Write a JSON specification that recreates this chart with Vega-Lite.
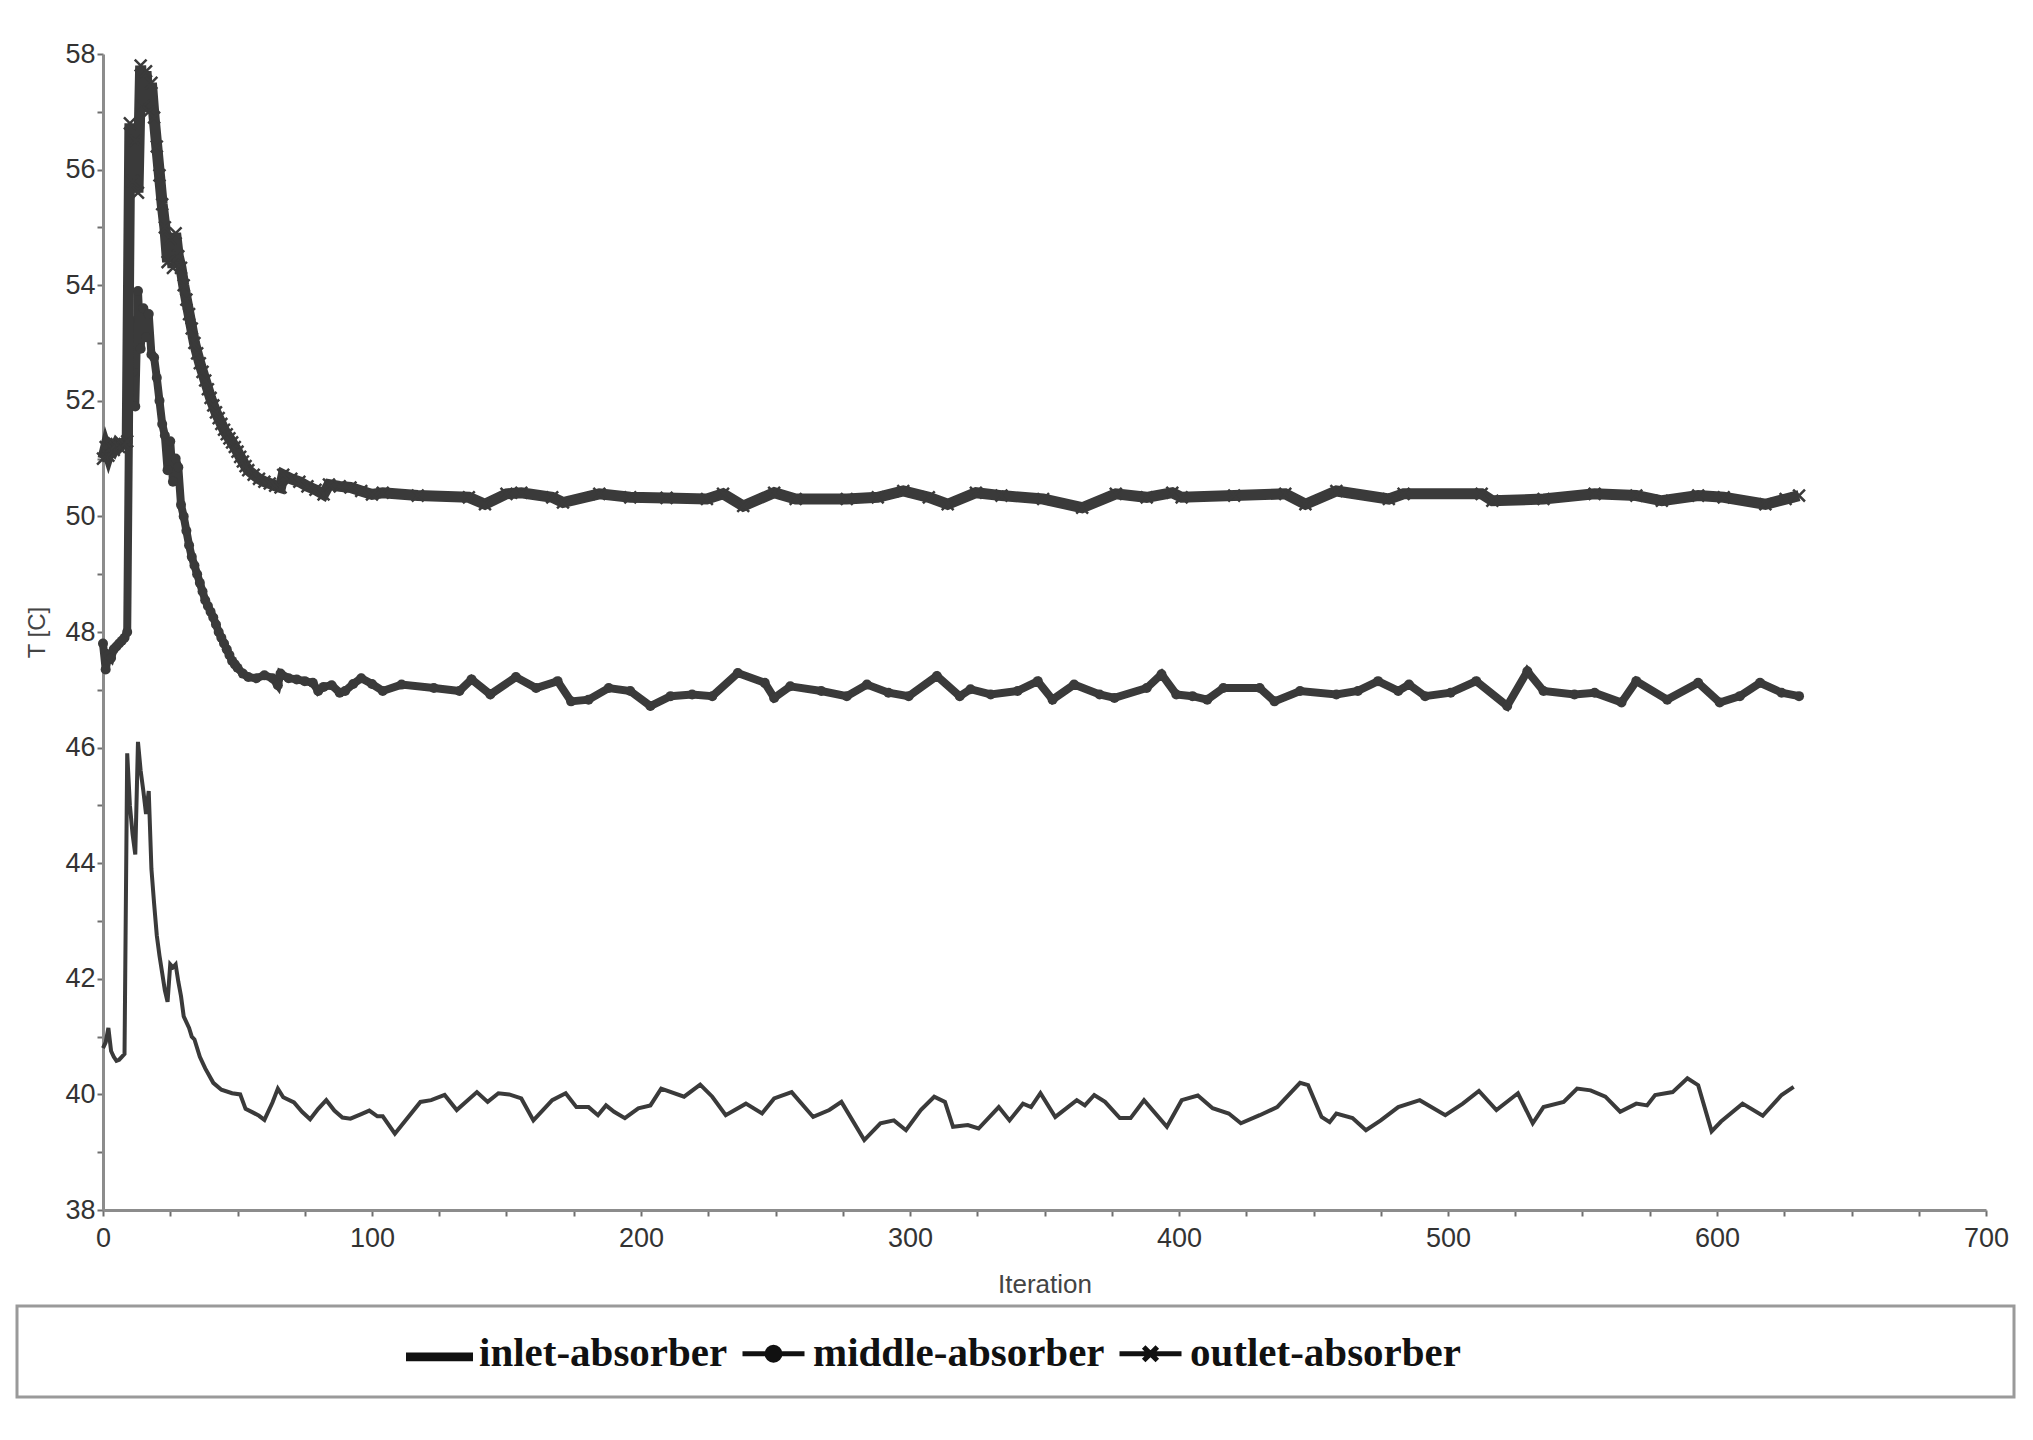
{
  "$schema": "https://vega.github.io/schema/vega-lite/v6.json",
  "background": "white",
  "padding": {"left": 15, "top": 40, "right": 10, "bottom": 10},
  "spacing": 7,
  "datasets": {
    "inlet": [
      {"iteration":0,"T":40.8},{"iteration":1,"T":40.9},{"iteration":2,"T":41.15},{"iteration":3,"T":40.75},{"iteration":4,"T":40.65},{"iteration":5,"T":40.58},{"iteration":6,"T":40.6},{"iteration":7,"T":40.65},{"iteration":8,"T":40.7},{"iteration":9,"T":45.9},{"iteration":10,"T":45.0},{"iteration":11,"T":44.5},{"iteration":12,"T":44.15},{"iteration":13,"T":46.1},{"iteration":14,"T":45.6},{"iteration":15,"T":45.25},{"iteration":16,"T":44.85},{"iteration":17,"T":45.25},{"iteration":18,"T":43.9},{"iteration":19,"T":43.3},{"iteration":20,"T":42.75},{"iteration":21,"T":42.4},{"iteration":22,"T":42.1},{"iteration":23,"T":41.8},{"iteration":24,"T":41.6},{"iteration":25,"T":42.25},{"iteration":26,"T":42.2},{"iteration":27,"T":42.25},{"iteration":28,"T":41.95},{"iteration":29,"T":41.7},{"iteration":30,"T":41.35},{"iteration":32,"T":41.15},{"iteration":33,"T":41.0},{"iteration":34,"T":40.95},{"iteration":36,"T":40.65},{"iteration":38,"T":40.45},{"iteration":41,"T":40.2},{"iteration":44,"T":40.08},{"iteration":48,"T":40.02},{"iteration":51,"T":40.0},{"iteration":53,"T":39.75},{"iteration":56,"T":39.68},{"iteration":58,"T":39.63},{"iteration":60,"T":39.56},{"iteration":63,"T":39.86},{"iteration":65,"T":40.1},{"iteration":67,"T":39.95},{"iteration":71,"T":39.86},{"iteration":74,"T":39.7},{"iteration":77,"T":39.57},{"iteration":80,"T":39.75},{"iteration":83,"T":39.9},{"iteration":86,"T":39.72},{"iteration":89,"T":39.6},{"iteration":92,"T":39.58},{"iteration":96,"T":39.66},{"iteration":99,"T":39.72},{"iteration":102,"T":39.62},{"iteration":104,"T":39.62},{"iteration":108.5,"T":39.32},{"iteration":118,"T":39.87},{"iteration":122,"T":39.9},{"iteration":127,"T":39.99},{"iteration":131.5,"T":39.73},{"iteration":139,"T":40.04},{"iteration":143,"T":39.87},{"iteration":147,"T":40.02},{"iteration":151,"T":40.0},{"iteration":155.5,"T":39.93},{"iteration":160,"T":39.55},{"iteration":167,"T":39.9},{"iteration":172,"T":40.02},{"iteration":176,"T":39.78},{"iteration":180.5,"T":39.78},{"iteration":184,"T":39.64},{"iteration":187,"T":39.81},{"iteration":190,"T":39.7},{"iteration":194,"T":39.59},{"iteration":199,"T":39.76},{"iteration":203.5,"T":39.81},{"iteration":207.5,"T":40.1},{"iteration":216,"T":39.96},{"iteration":222,"T":40.17},{"iteration":226.5,"T":39.96},{"iteration":231.5,"T":39.64},{"iteration":239,"T":39.84},{"iteration":245,"T":39.67},{"iteration":249.5,"T":39.93},{"iteration":256,"T":40.04},{"iteration":264,"T":39.61},{"iteration":270,"T":39.73},{"iteration":274.5,"T":39.87},{"iteration":283,"T":39.21},{"iteration":289,"T":39.5},{"iteration":294,"T":39.55},{"iteration":298.5,"T":39.38},{"iteration":304,"T":39.73},{"iteration":309,"T":39.96},{"iteration":313,"T":39.87},{"iteration":316,"T":39.44},{"iteration":321.5,"T":39.47},{"iteration":325.5,"T":39.41},{"iteration":333,"T":39.78},{"iteration":337,"T":39.55},{"iteration":342,"T":39.84},{"iteration":345,"T":39.78},{"iteration":348.5,"T":40.02},{"iteration":354,"T":39.61},{"iteration":362,"T":39.9},{"iteration":365,"T":39.81},{"iteration":368.5,"T":39.99},{"iteration":372.5,"T":39.87},{"iteration":378,"T":39.59},{"iteration":382,"T":39.59},{"iteration":387,"T":39.9},{"iteration":395.5,"T":39.44},{"iteration":401,"T":39.9},{"iteration":407,"T":39.98},{"iteration":412.5,"T":39.76},{"iteration":418.5,"T":39.67},{"iteration":423,"T":39.5},{"iteration":430,"T":39.64},{"iteration":436.5,"T":39.78},{"iteration":445,"T":40.2},{"iteration":448,"T":40.16},{"iteration":453,"T":39.61},{"iteration":456,"T":39.52},{"iteration":458.5,"T":39.67},{"iteration":464.5,"T":39.59},{"iteration":469.5,"T":39.38},{"iteration":475,"T":39.55},{"iteration":481.5,"T":39.78},{"iteration":489.5,"T":39.9},{"iteration":499,"T":39.64},{"iteration":505.5,"T":39.84},{"iteration":511.5,"T":40.06},{"iteration":518,"T":39.73},{"iteration":526,"T":40.02},{"iteration":531.5,"T":39.5},{"iteration":535.5,"T":39.78},{"iteration":543,"T":39.87},{"iteration":548,"T":40.1},{"iteration":553,"T":40.07},{"iteration":558.5,"T":39.96},{"iteration":564,"T":39.7},{"iteration":570,"T":39.84},{"iteration":574,"T":39.81},{"iteration":577,"T":39.99},{"iteration":583.5,"T":40.04},{"iteration":589,"T":40.28},{"iteration":593,"T":40.16},{"iteration":598,"T":39.36},{"iteration":601.5,"T":39.53},{"iteration":609.5,"T":39.84},{"iteration":617,"T":39.63},{"iteration":624,"T":39.99},{"iteration":628.5,"T":40.13}
    ],
    "middle": [
      {"iteration":0,"T":47.8},{"iteration":1,"T":47.35},{"iteration":2,"T":47.6},{"iteration":3,"T":47.55},{"iteration":4,"T":47.7},{"iteration":5,"T":47.75},{"iteration":6,"T":47.8},{"iteration":7,"T":47.85},{"iteration":8,"T":47.9},{"iteration":9,"T":48.0},{"iteration":10,"T":53.4},{"iteration":11,"T":52.5},{"iteration":12,"T":51.9},{"iteration":13,"T":53.9},{"iteration":14,"T":52.9},{"iteration":15,"T":53.6},{"iteration":16,"T":53.1},{"iteration":17,"T":53.5},{"iteration":18,"T":52.8},{"iteration":19,"T":52.75},{"iteration":20,"T":52.4},{"iteration":21,"T":52.0},{"iteration":22,"T":51.6},{"iteration":23,"T":51.4},{"iteration":24,"T":50.8},{"iteration":25,"T":51.3},{"iteration":26,"T":50.6},{"iteration":27,"T":51.0},{"iteration":28,"T":50.85},{"iteration":29,"T":50.2},{"iteration":30,"T":50.0},{"iteration":31,"T":49.75},{"iteration":32,"T":49.5},{"iteration":33,"T":49.3},{"iteration":34,"T":49.15},{"iteration":35,"T":49.0},{"iteration":36,"T":48.85},{"iteration":37,"T":48.7},{"iteration":38,"T":48.55},{"iteration":39,"T":48.45},{"iteration":40,"T":48.35},{"iteration":41,"T":48.25},{"iteration":42,"T":48.13},{"iteration":43,"T":48.0},{"iteration":44,"T":47.9},{"iteration":45,"T":47.8},{"iteration":46,"T":47.7},{"iteration":47,"T":47.6},{"iteration":48,"T":47.5},{"iteration":49,"T":47.44},{"iteration":50,"T":47.38},{"iteration":52,"T":47.28},{"iteration":54,"T":47.22},{"iteration":57,"T":47.2},{"iteration":60,"T":47.25},{"iteration":63,"T":47.2},{"iteration":65,"T":47.08},{"iteration":66,"T":47.28},{"iteration":69,"T":47.2},{"iteration":72,"T":47.18},{"iteration":75,"T":47.15},{"iteration":78,"T":47.12},{"iteration":80,"T":46.98},{"iteration":82,"T":47.05},{"iteration":85,"T":47.08},{"iteration":88,"T":46.95},{"iteration":90,"T":46.98},{"iteration":93,"T":47.1},{"iteration":96,"T":47.2},{"iteration":100,"T":47.1},{"iteration":104,"T":46.98},{"iteration":111,"T":47.09},{"iteration":123,"T":47.03},{"iteration":132.5,"T":46.98},{"iteration":137,"T":47.18},{"iteration":144,"T":46.92},{"iteration":153.5,"T":47.22},{"iteration":161,"T":47.03},{"iteration":169,"T":47.15},{"iteration":174,"T":46.8},{"iteration":180.5,"T":46.83},{"iteration":188,"T":47.03},{"iteration":196,"T":46.98},{"iteration":203.5,"T":46.72},{"iteration":211,"T":46.89},{"iteration":219,"T":46.92},{"iteration":226.5,"T":46.89},{"iteration":236,"T":47.29},{"iteration":246,"T":47.12},{"iteration":249.5,"T":46.86},{"iteration":255.5,"T":47.06},{"iteration":267,"T":46.98},{"iteration":276.5,"T":46.89},{"iteration":284,"T":47.09},{"iteration":292,"T":46.95},{"iteration":299.5,"T":46.89},{"iteration":310,"T":47.24},{"iteration":318.5,"T":46.89},{"iteration":322.5,"T":47.01},{"iteration":330,"T":46.92},{"iteration":340,"T":46.98},{"iteration":347.5,"T":47.15},{"iteration":353,"T":46.83},{"iteration":361,"T":47.09},{"iteration":370.5,"T":46.92},{"iteration":376,"T":46.86},{"iteration":388,"T":47.03},{"iteration":393.5,"T":47.27},{"iteration":399,"T":46.92},{"iteration":405,"T":46.89},{"iteration":410.5,"T":46.83},{"iteration":416.5,"T":47.03},{"iteration":430,"T":47.03},{"iteration":435.5,"T":46.8},{"iteration":445,"T":46.98},{"iteration":458.5,"T":46.92},{"iteration":466.5,"T":46.98},{"iteration":474,"T":47.15},{"iteration":481.5,"T":46.98},{"iteration":485.5,"T":47.09},{"iteration":491.5,"T":46.89},{"iteration":501,"T":46.95},{"iteration":510.5,"T":47.15},{"iteration":522,"T":46.72},{"iteration":529.5,"T":47.32},{"iteration":535.5,"T":46.98},{"iteration":547,"T":46.92},{"iteration":554.5,"T":46.95},{"iteration":564.5,"T":46.78},{"iteration":570,"T":47.15},{"iteration":581.5,"T":46.83},{"iteration":593,"T":47.12},{"iteration":601,"T":46.78},{"iteration":608.5,"T":46.89},{"iteration":616,"T":47.12},{"iteration":624,"T":46.95},{"iteration":630.5,"T":46.89}
    ],
    "outlet": [
      {"iteration":0,"T":51.0},{"iteration":1,"T":51.2},{"iteration":2,"T":51.05},{"iteration":3,"T":51.2},{"iteration":4,"T":51.15},{"iteration":5,"T":51.25},{"iteration":6,"T":51.2},{"iteration":7,"T":51.25},{"iteration":8,"T":51.25},{"iteration":9,"T":51.3},{"iteration":10,"T":56.8},{"iteration":11,"T":55.8},{"iteration":12,"T":56.5},{"iteration":13,"T":55.6},{"iteration":14,"T":57.8},{"iteration":15,"T":57.1},{"iteration":16,"T":57.7},{"iteration":17,"T":57.0},{"iteration":18,"T":57.5},{"iteration":19,"T":56.9},{"iteration":20,"T":56.4},{"iteration":21,"T":55.9},{"iteration":22,"T":55.4},{"iteration":23,"T":55.0},{"iteration":24,"T":54.4},{"iteration":25,"T":54.8},{"iteration":26,"T":54.3},{"iteration":27,"T":54.9},{"iteration":28,"T":54.5},{"iteration":29,"T":54.3},{"iteration":30,"T":54.0},{"iteration":31,"T":53.75},{"iteration":32,"T":53.5},{"iteration":33,"T":53.25},{"iteration":34,"T":53.0},{"iteration":35,"T":52.82},{"iteration":36,"T":52.65},{"iteration":37,"T":52.5},{"iteration":38,"T":52.35},{"iteration":39,"T":52.2},{"iteration":40,"T":52.05},{"iteration":41,"T":51.92},{"iteration":42,"T":51.8},{"iteration":43,"T":51.7},{"iteration":44,"T":51.6},{"iteration":45,"T":51.5},{"iteration":46,"T":51.42},{"iteration":47,"T":51.35},{"iteration":48,"T":51.28},{"iteration":49,"T":51.2},{"iteration":50,"T":51.12},{"iteration":51,"T":51.03},{"iteration":52,"T":50.95},{"iteration":53,"T":50.87},{"iteration":54,"T":50.8},{"iteration":56,"T":50.72},{"iteration":58,"T":50.65},{"iteration":60,"T":50.6},{"iteration":62,"T":50.57},{"iteration":64,"T":50.53},{"iteration":66,"T":50.5},{"iteration":67,"T":50.72},{"iteration":70,"T":50.65},{"iteration":73,"T":50.6},{"iteration":76,"T":50.52},{"iteration":79,"T":50.46},{"iteration":82,"T":50.38},{"iteration":84,"T":50.55},{"iteration":88,"T":50.52},{"iteration":92,"T":50.5},{"iteration":96,"T":50.44},{"iteration":100,"T":50.38},{"iteration":104,"T":50.41},{"iteration":117,"T":50.36},{"iteration":136,"T":50.33},{"iteration":142,"T":50.21},{"iteration":150,"T":50.39},{"iteration":155.5,"T":50.41},{"iteration":167,"T":50.33},{"iteration":171,"T":50.24},{"iteration":184.5,"T":50.39},{"iteration":196,"T":50.33},{"iteration":209.5,"T":50.32},{"iteration":224.5,"T":50.3},{"iteration":230.5,"T":50.39},{"iteration":238,"T":50.18},{"iteration":249.5,"T":50.41},{"iteration":257.5,"T":50.3},{"iteration":276.5,"T":50.3},{"iteration":288,"T":50.33},{"iteration":297.5,"T":50.44},{"iteration":307,"T":50.33},{"iteration":314,"T":50.21},{"iteration":324.5,"T":50.41},{"iteration":334,"T":50.36},{"iteration":349.5,"T":50.3},{"iteration":364,"T":50.15},{"iteration":376.5,"T":50.39},{"iteration":388,"T":50.33},{"iteration":397.5,"T":50.41},{"iteration":401,"T":50.33},{"iteration":420.5,"T":50.36},{"iteration":439.5,"T":50.39},{"iteration":447,"T":50.21},{"iteration":458.5,"T":50.44},{"iteration":478,"T":50.3},{"iteration":483.5,"T":50.39},{"iteration":512.5,"T":50.39},{"iteration":516.5,"T":50.27},{"iteration":535.5,"T":50.3},{"iteration":554.5,"T":50.39},{"iteration":570,"T":50.36},{"iteration":579.5,"T":50.27},{"iteration":593,"T":50.36},{"iteration":602.5,"T":50.33},{"iteration":618,"T":50.21},{"iteration":625.5,"T":50.3},{"iteration":630.5,"T":50.36}
    ]
  },
  "config": {
    "view": {"stroke": null},
    "axis": {
      "grid": false,
      "domainColor": "#8c8c8c",
      "domainWidth": 3,
      "tickColor": "#6e6e6e",
      "tickWidth": 2,
      "tickSize": 6,
      "labelFont": "Liberation Sans",
      "labelFontSize": 27,
      "labelColor": "#333333",
      "labelFlush": false,
      "labelOverlap": false,
      "titleFont": "Liberation Sans",
      "titleFontWeight": "normal",
      "titleColor": "#444444"
    }
  },
  "resolve": {"legend": {"shape": "independent"}, "scale": {"shape": "independent"}},
  "vconcat": [
    {
      "width": 1997,
      "height": 1156,
      "encoding": {
        "x": {
          "field": "iteration",
          "type": "quantitative",
          "scale": {"domain": [0, 700], "range": [86, 1969], "nice": false, "zero": false},
          "axis": {
            "title": "Iteration",
            "titleFontSize": 26,
            "titlePadding": 20,
            "labelPadding": 9,
            "values": [0,25,50,75,100,125,150,175,200,225,250,275,300,325,350,375,400,425,450,475,500,525,550,575,600,625,650,675,700],
            "labelExpr": "datum.value % 100 === 0 ? datum.label : ''"
          }
        },
        "y": {
          "field": "T",
          "type": "quantitative",
          "scale": {"domain": [38, 58], "nice": false, "zero": false},
          "axis": {
            "title": "T [C]",
            "titleFontSize": 24,
            "titlePadding": 15,
            "labelPadding": 2,
            "offset": -86,
            "values": [38,39,40,41,42,43,44,45,46,47,48,49,50,51,52,53,54,55,56,57,58],
            "labelExpr": "datum.value % 2 === 0 ? datum.label : ''"
          }
        }
      },
      "layer": [
        {"data": {"name": "inlet"}, "mark": {"type": "line", "color": "#3a3a3a", "strokeWidth": 4}},
        {"data": {"name": "middle"}, "mark": {"type": "line", "color": "#3a3a3a", "strokeWidth": 8}},
        {"data": {"name": "middle"}, "mark": {"type": "point", "shape": "circle", "filled": true, "size": 100, "color": "#3a3a3a", "opacity": 1}},
        {"data": {"name": "outlet"}, "mark": {"type": "line", "color": "#3a3a3a", "strokeWidth": 11}},
        {"data": {"name": "outlet"}, "mark": {"type": "point", "shape": "M-1,-1L1,1M1,-1L-1,1", "filled": false, "size": 140, "strokeWidth": 2.5, "color": "#3a3a3a", "opacity": 1}}
      ]
    },
    {
      "width": 1997,
      "height": 91,
      "view": {"stroke": "#9a9a9a", "strokeWidth": 3},
      "data": {"values": [{"series": "inlet-absorber"}, {"series": "middle-absorber"}, {"series": "outlet-absorber"}]},
      "mark": {"type": "point", "opacity": 0, "filled": false, "color": "#111111"},
      "encoding": {
        "shape": {
          "field": "series",
          "type": "nominal",
          "scale": {
            "domain": ["inlet-absorber", "middle-absorber", "outlet-absorber"],
            "range": [
              "M-1,0.04H1V0.16H-1Z",
              "M-1,0H1M0.05,0A0.05,0.05 0 1 1 -0.05,0A0.05,0.05 0 1 1 0.05,0M0.13,0A0.13,0.13 0 1 1 -0.13,0A0.13,0.13 0 1 1 0.13,0M0.21,0A0.21,0.21 0 1 1 -0.21,0A0.21,0.21 0 1 1 0.21,0",
              "M-1,0H1M-0.22,-0.22L0.22,0.22M-0.22,0.22L0.22,-0.22"
            ]
          },
          "legend": {
            "orient": "none",
            "legendX": 389,
            "legendY": 14,
            "direction": "horizontal",
            "title": null,
            "symbolSize": 3844,
            "symbolStrokeWidth": 5,
            "symbolStrokeColor": "#111111",
            "symbolOpacity": 1,
            "labelFont": "Liberation Serif",
            "labelFontSize": 41,
            "labelFontWeight": "bold",
            "labelColor": "#111111",
            "labelOffset": 6,
            "columnPadding": 4,
            "labelLimit": 1000,
            "padding": 0
          }
        }
      }
    }
  ]
}
